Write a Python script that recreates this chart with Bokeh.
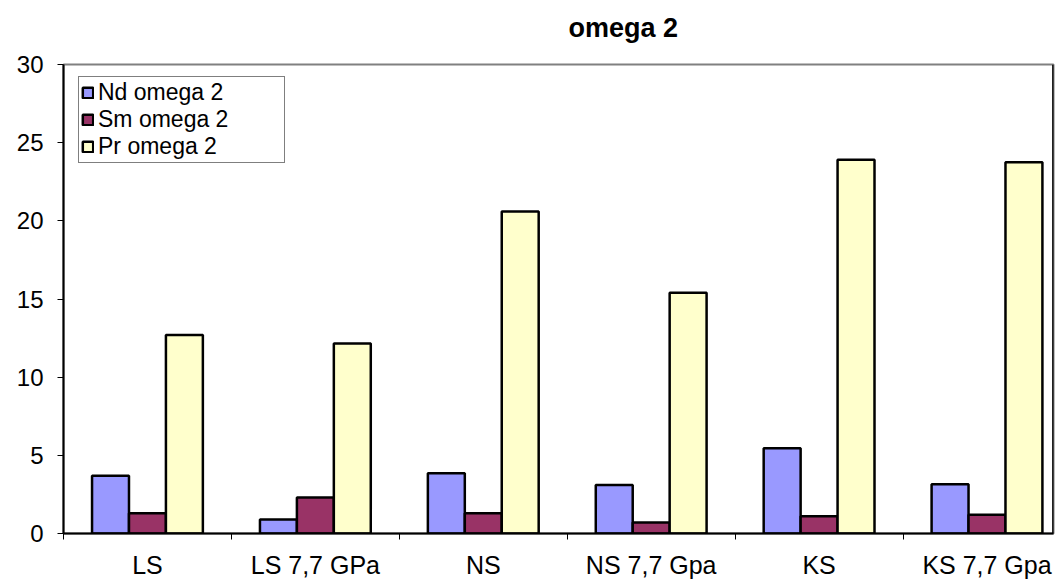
import numpy as np
from bokeh.plotting import figure
from bokeh.models import ColumnDataSource, FixedTicker, Legend, Span, Title, Range1d
from bokeh.transform import dodge
from bokeh.embed import file_html
from bokeh.resources import INLINE

categories = ["LS", "LS 7,7 GPa", "NS", "NS 7,7 Gpa", "KS", "KS 7,7 Gpa"]
nd_omega2 = [3.7, 0.9, 3.85, 3.1, 5.45, 3.15]
sm_omega2 = [1.3, 2.3, 1.3, 0.7, 1.1, 1.2]
pr_omega2 = [12.7, 12.15, 20.6, 15.4, 23.9, 23.75]
series_names = ["Nd omega 2", "Sm omega 2", "Pr omega 2"]
series_colors = ["#9999FF", "#993366", "#FFFFCC"]
y_ticks = [0, 5, 10, 15, 20, 25, 30]

FONT = "Liberation Sans"

xs = list(range(len(categories)))
source = ColumnDataSource(data=dict(x=xs, nd=nd_omega2, sm=sm_omega2, pr=pr_omega2))

p = figure(width=1055, height=581, output_backend="svg", toolbar_location=None,
           x_range=Range1d(-0.5, 5.396), y_range=Range1d(0, 30),
           min_border_left=63, min_border_right=2, min_border_top=64, min_border_bottom=45)

# main title (outer) and an empty spacer title (inner, next to the frame)
p.title.text = "omega 2"
p.title.align = "left"
p.title.offset = 505
p.title.standoff = 0
p.title.text_font = FONT
p.title.text_font_size = "27px"
p.title.text_font_style = "bold"
p.title.text_color = "black"
p.add_layout(Title(text=" ", text_font_size="12px", standoff=6), "above")

bar_w = 0.22
renderers = []
for col, off, name, color in zip(["nd", "sm", "pr"], [-bar_w, 0, bar_w], series_names, series_colors):
    r = p.vbar(x=dodge("x", off, range=p.x_range), top=col, width=bar_w, source=source,
               fill_color=color, line_color="black", line_width=2.5)
    renderers.append((name, [r]))

legend = Legend(items=renderers, location=(15, 370), orientation="vertical",
                label_text_font=FONT, label_text_font_size="23px", label_text_color="black",
                glyph_width=13, glyph_height=13, label_height=22, spacing=0,
                padding=2, margin=0, label_standoff=4, label_width=184,
                border_line_color="black", border_line_width=1, background_fill_color="white")
p.add_layout(legend, "center")

# x axis: labels at centers, tick marks at category boundaries
p.xaxis.ticker = FixedTicker(ticks=[i for i in xs], minor_ticks=[i - 0.5 for i in range(len(categories) + 1)])
p.xaxis.major_label_overrides = {i: c for i, c in enumerate(categories)}
p.xaxis.major_tick_line_color = None
p.xaxis.major_tick_in = 0
p.xaxis.major_tick_out = 6
p.xaxis.minor_tick_in = 0
p.xaxis.minor_tick_out = 6
p.xaxis.minor_tick_line_color = "black"
p.xaxis.minor_tick_line_width = 1
p.xaxis.axis_line_color = "black"
p.xaxis.axis_line_width = 2
p.xaxis.major_label_text_font = FONT
p.xaxis.major_label_text_font_size = "25px"
p.xaxis.major_label_text_color = "black"
p.xaxis.major_label_standoff = 11

p.yaxis.ticker = FixedTicker(ticks=y_ticks)
p.yaxis.major_tick_in = 0
p.yaxis.major_tick_out = 6
p.yaxis.major_tick_line_color = "black"
p.yaxis.minor_tick_line_color = None
p.yaxis.axis_line_color = "black"
p.yaxis.axis_line_width = 2
p.yaxis.major_label_text_font = FONT
p.yaxis.major_label_text_font_size = "24px"
p.yaxis.major_label_text_color = "black"
p.yaxis.major_label_standoff = 14

p.xgrid.grid_line_color = None
p.ygrid.grid_line_color = None
p.outline_line_color = "#808080"
p.outline_line_width = 2
p.add_layout(Span(location=5.394, dimension="height", line_color="black", line_width=2))
p.background_fill_color = "white"
p.border_fill_color = "white"

open("out.html", "w").write(file_html(p, INLINE))
